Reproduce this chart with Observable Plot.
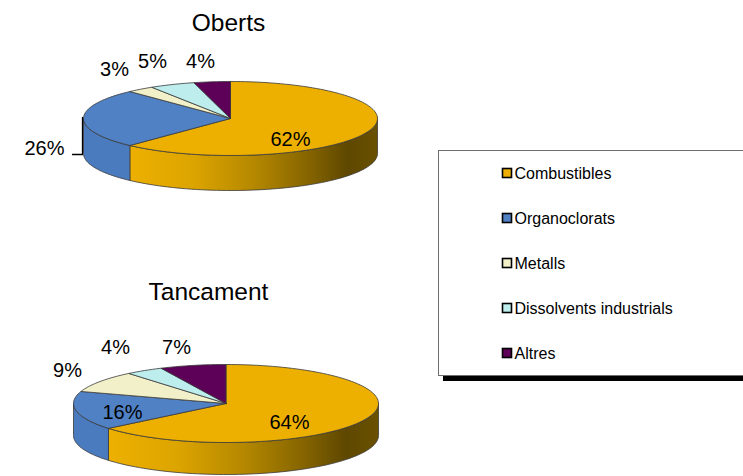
<!DOCTYPE html>
<html>
<head>
<meta charset="utf-8">
<script src="https://cdn.jsdelivr.net/npm/d3@7"></script>
<script src="https://cdn.jsdelivr.net/npm/@observablehq/plot@0.6"></script>
<style>
  html, body { margin: 0; padding: 0; background: #fff; overflow: hidden; }
  svg { display: block; }
</style>
</head>
<body>
<div id="chart"></div>
<script>
// Shares (%) of each contaminant family, open vs. closed sites
const categories = ["Combustibles", "Organoclorats", "Metalls", "Dissolvents industrials", "Altres"];
const obertsShares = [62, 26, 3, 5, 4];
const tancamentShares = [64, 16, 9, 4, 7];
const chartTitles = ["Oberts", "Tancament"];

// Fill of the top face and of the rim for each family
const topColors = ["#EDB000", "#4F81C4", "#F2F0C8", "#BDEDED", "#5C0058"];
const sideColors = ["url(#rimGold)", "#4A7BBF", "#D8D5A9", "#A3D5D5", "#47003F"];

// Placement of the two tilted pies (ellipse radii, rim depth, label anchors)
const pieLayout = [
  {cx: 230, cy: 118, rx: 147, ry: 37, depth: 35, titleX: 228, titleY: 30,
   labels: [[290, 145], [44, 154], [114, 75], [152, 67], [200, 67]]},
  {cx: 225.5, cy: 403, rx: 152.5, ry: 39, depth: 32, titleX: 208, titleY: 299,
   labels: [[289, 428], [122, 418], [67, 376], [115, 353], [176, 353]]}
];
const seriesShares = [obertsShares, tancamentShares];

// Point on the rim ellipse; angles measured clockwise from 12 o'clock
function rimPoint(p, deg, drop = 0) {
  const a = deg * Math.PI / 180;
  return {x: p.cx + p.rx * Math.sin(a), y: p.cy - p.ry * Math.cos(a) + drop};
}
function arc(p, a0, a1, drop = 0) {
  const n = Math.max(2, Math.ceil((a1 - a0) / 2));
  return d3.range(n + 1).map(i => rimPoint(p, a0 + (a1 - a0) * i / n, drop));
}

const rims = [], tops = [], labels = [], titles = [];
seriesShares.forEach((shares, k) => {
  const p = pieLayout[k];
  const total = d3.sum(shares);
  const ends = d3.cumsum(shares).map(v => v / total * 360);
  shares.forEach((v, i) => {
    const a0 = i === 0 ? 0 : ends[i - 1], a1 = ends[i];
    const id = `${k}-${i}`;
    // top face: wedge from the centre
    const c = {x: p.cx, y: p.cy};
    [c, ...arc(p, a0, a1), c].forEach(q => tops.push({...q, id, fill: topColors[i]}));
    // front rim: only the part facing the viewer (3 o'clock to 9 o'clock)
    const b0 = Math.max(a0, 90), b1 = Math.min(a1, 270);
    if (b1 > b0) {
      const upper = arc(p, b0, b1), lower = arc(p, b0, b1, p.depth).reverse();
      [...upper, ...lower, upper[0]].forEach(q => rims.push({...q, id, fill: sideColors[i]}));
    }
    labels.push({x: p.labels[i][0], y: p.labels[i][1], text: `${v}%`});
  });
  titles.push({x: p.titleX, y: p.titleY, text: chartTitles[k]});
});

// leader line of the 26% label
const leader = [{x: 72, y: 154}, {x: 82, y: 154}, {x: 82, y: 117}];

// legend entries
const legend = categories.map((name, i) => ({name, fill: topColors[i], y: 173 + i * 45}));

const svg = Plot.plot({
  width: 743,
  height: 476,
  margin: 0,
  style: {fontFamily: "'Liberation Sans', Arial, sans-serif", background: "#fff"},
  x: {domain: [0, 743], range: [0, 743], axis: null},
  y: {domain: [0, 476], range: [0, 476], axis: null},
  color: {type: "identity"},
  marks: [
    Plot.line(rims, {x: "x", y: "y", z: "id", fill: "fill", stroke: "#3a3a3a", strokeWidth: 0.8, strokeLinejoin: "round"}),
    Plot.line(tops, {x: "x", y: "y", z: "id", fill: "fill", stroke: "#3a3a3a", strokeWidth: 0.8, strokeLinejoin: "round"}),
    Plot.line(leader, {x: "x", y: "y", stroke: "#000", strokeWidth: 1.3}),
    Plot.text(labels, {x: "x", y: "y", text: "text", fontSize: 20, fill: "#000", lineAnchor: "bottom", ariaLabel: "pct"}),
    Plot.text(titles, {x: "x", y: "y", text: "text", fontSize: 24.5, fill: "#000", lineAnchor: "bottom", ariaLabel: "titles"}),
    // legend frame with its drop shadow
    Plot.rect([0], {x1: 443, x2: 760, y1: 370, y2: 381, fill: "#000"}),
    Plot.rect([0], {x1: 438.5, x2: 760, y1: 150.5, y2: 375.5, fill: "#fff", stroke: "#6e6e6e", strokeWidth: 1}),
    Plot.rect(legend, {x1: 502.5, x2: 511.5, y1: d => d.y - 4.5, y2: d => d.y + 4.5, fill: "fill", stroke: "#000", strokeWidth: 1.6}),
    Plot.text(legend, {x: 514, y: "y", text: "name", fontSize: 16, fill: "#000", textAnchor: "start", ariaLabel: "legend"})
  ]
});

// slightly wider lettering
const spacing = {pct: "0.8px", titles: "1.2px", legend: "0.35px"};
for (const [name, ls] of Object.entries(spacing)) {
  svg.querySelectorAll(`g[aria-label="${name}"]`).forEach(g => g.style.letterSpacing = ls);
}

// horizontal shading of the large slice's rim
const ns = "http://www.w3.org/2000/svg";
const defs = document.createElementNS(ns, "defs");
const grad = document.createElementNS(ns, "linearGradient");
grad.setAttribute("id", "rimGold");
grad.setAttribute("x1", "0"); grad.setAttribute("x2", "1");
grad.setAttribute("y1", "0"); grad.setAttribute("y2", "0");
[[0, "#EDB000"], [0.25, "#DDA500"], [0.5, "#B58800"], [0.72, "#866500"], [0.88, "#5E4700"], [1, "#6A5100"]]
  .forEach(([o, c]) => {
    const s = document.createElementNS(ns, "stop");
    s.setAttribute("offset", o);
    s.setAttribute("stop-color", c);
    grad.appendChild(s);
  });
defs.appendChild(grad);
svg.insertBefore(defs, svg.firstChild);

document.getElementById("chart").appendChild(svg);
</script>
</body>
</html>
